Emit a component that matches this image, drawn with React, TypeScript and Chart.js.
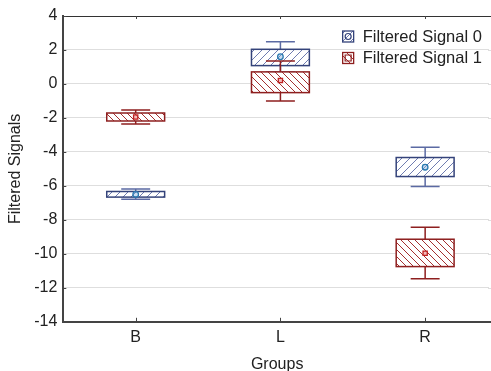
import React, { useEffect, useRef } from "react";
import { Chart, registerables } from "chart.js";

Chart.register(...registerables);

const categories = ["B", "L", "R"];
const seriesNames = ["Filtered Signal 0", "Filtered Signal 1"];

const s0Center = [-6.5, 1.6, -4.9];
const s0BoxLow = [-6.66, 1.08, -5.45];
const s0BoxHigh = [-6.33, 2.04, -4.33];
const s0WhiskerLow = [-6.78, 0.71, -6.04];
const s0WhiskerHigh = [-6.18, 2.49, -3.73];

const s1Center = [-1.95, 0.2, -9.96];
const s1BoxLow = [-2.18, -0.51, -10.75];
const s1BoxHigh = [-1.71, 0.71, -9.14];
const s1WhiskerLow = [-2.35, -1.0, -11.47];
const s1WhiskerHigh = [-1.53, 1.35, -8.43];

const yTicks = [4, 2, 0, -2, -4, -6, -8, -10, -12, -14];

const FONT = "'Liberation Sans', Arial, sans-serif";
const BLUE = "#34437a";
const BLUE_HATCH = "#6f7cb0";
const BLUE_WHISK = "#5b6aa3";
const RED = "#8e1f1f";
const RED_HATCH = "#a53030";

function makeHatch(color: string, dir: "/" | "\\", s: number) {
  const c = document.createElement("canvas");
  c.width = s;
  c.height = s;
  const g = c.getContext("2d")!;
  g.strokeStyle = color;
  g.lineWidth = 1;
  g.beginPath();
  if (dir === "/") {
    g.moveTo(-1, s + 1);
    g.lineTo(s + 1, -1);
    g.moveTo(-1, 1);
    g.lineTo(1, -1);
    g.moveTo(s - 1, s + 1);
    g.lineTo(s + 1, s - 1);
  } else {
    g.moveTo(-1, -1);
    g.lineTo(s + 1, s + 1);
    g.moveTo(s - 1, -1);
    g.lineTo(s + 1, 1);
    g.moveTo(-1, s - 1);
    g.lineTo(1, s + 1);
  }
  g.stroke();
  return c;
}

export default function App() {
  const ref = useRef<HTMLCanvasElement>(null);

  useEffect(() => {
    const canvas = ref.current!;
    const ctx0 = canvas.getContext("2d")!;
    const blueHatch = ctx0.createPattern(makeHatch(BLUE_HATCH, "/", 8), "repeat")!;
    const redHatch = ctx0.createPattern(makeHatch(RED_HATCH, "\\", 7), "repeat")!;

    const series = [
      {
        center: s0Center, lo: s0BoxLow, hi: s0BoxHigh, wlo: s0WhiskerLow, whi: s0WhiskerHigh,
        stroke: BLUE, whisk: BLUE_WHISK, hatch: blueHatch, marker: "circle",
      },
      {
        center: s1Center, lo: s1BoxLow, hi: s1BoxHigh, wlo: s1WhiskerLow, whi: s1WhiskerHigh,
        stroke: RED, whisk: RED, hatch: redHatch, marker: "rect",
      },
    ];

    const boxPlugin = {
      id: "boxes",
      beforeDatasetsDraw(chart: any) {
        const { ctx, chartArea, scales } = chart;
        const xs = scales.x;
        const ys = scales.y;
        ctx.save();
        // mask any frame line at the clipped right edge
        ctx.fillStyle = "#fff";
        ctx.fillRect(chartArea.right - 2, chartArea.top + 1, 4, chartArea.bottom - chartArea.top - 2);
        ys.ticks.forEach((t: any) => {
          const py = Math.round(ys.getPixelForValue(t.value)) + 0.5;
          if (t.value === 4 || t.value === -14) return;
          ctx.strokeStyle = "#dedede";
          ctx.lineWidth = 1;
          ctx.beginPath();
          ctx.moveTo(chartArea.right - 3, py);
          ctx.lineTo(chartArea.right + 2, py);
          ctx.stroke();
        });
        ctx.strokeStyle = "#333";
        ctx.lineWidth = 1;
        ctx.beginPath();
        ctx.moveTo(chartArea.left, chartArea.top + 0.5);
        ctx.lineTo(chartArea.right + 2, chartArea.top + 0.5);
        ctx.stroke();
        ctx.strokeStyle = "#444";
        categories.forEach((_, i) => {
          const px = Math.round(xs.getPixelForValue(i)) + 0.5;
          ctx.beginPath();
          ctx.moveTo(px, chartArea.top);
          ctx.lineTo(px, chartArea.top + 3);
          ctx.moveTo(px, chartArea.bottom);
          ctx.lineTo(px, chartArea.bottom - 4);
          ctx.stroke();
        });
        yTicks.forEach((v) => {
          const py = Math.round(ys.getPixelForValue(v)) + 0.5;
          ctx.beginPath();
          ctx.moveTo(chartArea.left, py);
          ctx.lineTo(chartArea.left + 3, py);
          ctx.stroke();
        });
        series.forEach((s) => {
          categories.forEach((_, i) => {
            const cx = xs.getPixelForValue(i);
            const half = xs.getPixelForValue(i + 0.2) - cx;
            const cap = xs.getPixelForValue(i + 0.1) - cx;
            const yTop = ys.getPixelForValue(s.whi[i]);
            const yBot = ys.getPixelForValue(s.wlo[i]);
            const bTop = ys.getPixelForValue(s.hi[i]);
            const bBot = ys.getPixelForValue(s.lo[i]);
            ctx.strokeStyle = s.whisk;
            ctx.lineWidth = 1.5;
            ctx.beginPath();
            ctx.moveTo(cx, yTop);
            ctx.lineTo(cx, yBot);
            ctx.moveTo(cx - cap, yTop);
            ctx.lineTo(cx + cap, yTop);
            ctx.moveTo(cx - cap, yBot);
            ctx.lineTo(cx + cap, yBot);
            ctx.stroke();
            ctx.fillStyle = "#fff";
            ctx.fillRect(cx - half, bTop, 2 * half, bBot - bTop);
            ctx.fillStyle = s.hatch;
            ctx.fillRect(cx - half, bTop, 2 * half, bBot - bTop);
            ctx.strokeStyle = s.stroke;
            ctx.lineWidth = 1.5;
            ctx.strokeRect(cx - half, bTop, 2 * half, bBot - bTop);
          });
        });
        ctx.restore();
      },
      afterDraw(chart: any) {
        const { ctx, chartArea, scales } = chart;
        ctx.save();
        const x0 = scales.x.getPixelForValue(1.43);
        const y0 = chartArea.top + 15;
        series.forEach((s, k) => {
          const y = y0 + k * 21.5;
          const sz = 11;
          ctx.fillStyle = "#fff";
          ctx.fillRect(x0, y, sz, sz);
          ctx.fillStyle = s.hatch;
          ctx.fillRect(x0, y, sz, sz);
          ctx.strokeStyle = s.stroke;
          ctx.lineWidth = 1.3;
          ctx.strokeRect(x0, y, sz, sz);
          ctx.lineWidth = 1.2;
          ctx.beginPath();
          if (s.marker === "circle") {
            ctx.arc(x0 + sz / 2, y + sz / 2, 3, 0, Math.PI * 2);
          } else {
            ctx.rect(x0 + sz / 2 - 3, y + sz / 2 - 3, 6, 6);
          }
          ctx.stroke();
          ctx.fillStyle = "#222";
          ctx.font = `16.5px ${FONT}`;
          ctx.textBaseline = "middle";
          ctx.textAlign = "left";
          ctx.fillText(seriesNames[k], x0 + 20, y + sz / 2 + 0.5);
        });
        ctx.restore();
      },
    };

    const chart = new Chart(canvas, {
      type: "scatter",
      data: {
        datasets: series.map((s, k) => ({
          label: seriesNames[k],
          data: s.center.map((v, i) => ({ x: i, y: v })),
          pointStyle: s.marker as any,
          radius: k === 0 ? 2.8 : 3,
          borderColor: k === 0 ? "#2a7ab0" : "#c02020",
          backgroundColor: k === 0 ? "rgba(120,170,220,0.4)" : "rgba(230,120,120,0.5)",
          borderWidth: 1.3,
        })),
      },
      options: {
        animation: false,
        responsive: true,
        maintainAspectRatio: false,
        layout: { autoPadding: false, padding: { top: 16, right: 0, left: 6, bottom: -2 } },
        plugins: { legend: { display: false }, tooltip: { enabled: false } },
        scales: {
          x: {
            type: "linear",
            min: -0.5,
            max: 2.455,
            afterBuildTicks: (axis: any) => {
              axis.ticks = categories.map((_, i) => ({ value: i }));
            },
            ticks: {
              callback: (v: any) => categories[v as number],
              font: { family: FONT, size: 16 },
              color: "#222",
              padding: 6,
              maxRotation: 0,
            },
            grid: { display: false, drawTicks: false },
            border: { display: true, color: "#444", width: 2 },
            title: {
              display: true,
              text: "Groups",
              font: { family: FONT, size: 16, lineHeight: 1 },
              color: "#222",
              padding: { top: 4, bottom: 0 },
            },
          },
          y: {
            min: -14,
            max: 4,
            afterBuildTicks: (axis: any) => {
              axis.ticks = yTicks.map((v) => ({ value: v }));
            },
            ticks: {
              font: { family: FONT, size: 16 },
              color: "#222",
              padding: 6,
            },
            grid: { color: "#dedede", lineWidth: 1, drawTicks: false },
            border: { display: true, color: "#444", width: 2 },
            title: {
              display: true,
              text: "Filtered Signals",
              font: { family: FONT, size: 16 },
              color: "#222",
              padding: { top: 0, bottom: 3 },
            },
          },
        },
      },
      plugins: [boxPlugin],
    });
    return () => chart.destroy();
  }, []);

  return (
    <div style={{ position: "fixed", left: 0, top: 0, width: 491, height: 371, background: "#fff" }}>
      <canvas ref={ref} />
    </div>
  );
}
